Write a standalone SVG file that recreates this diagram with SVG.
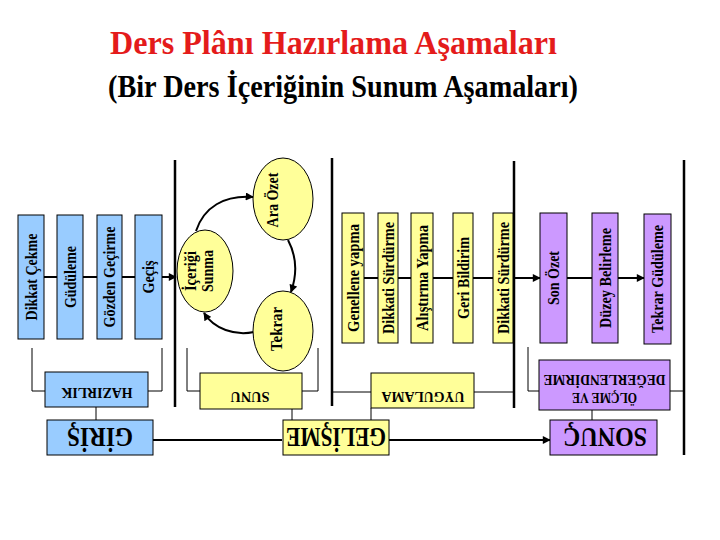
<svg xmlns="http://www.w3.org/2000/svg" width="720" height="540" viewBox="0 0 720 540">
<style>
.t{font-family:"Liberation Serif","Times New Roman",serif;font-weight:bold;fill:#000;text-anchor:middle}
.s{font-size:16px}
.m{font-size:15px}
.big{font-size:28px}
.blue{fill:#99CCFF;stroke:#000;stroke-width:1}
.yel{fill:#FFFF99;stroke:#000;stroke-width:1}
.pur{fill:#CC99FF;stroke:#000;stroke-width:1}
.sep{stroke:#000;stroke-width:2.5;fill:none}
.ln{stroke:#000;stroke-width:1;fill:none}
.ar{stroke:#000;stroke-width:2;fill:none;marker-end:url(#ah)}
</style>
<defs>
<marker id="ah" viewBox="0 0 10 10" refX="9" refY="5" markerWidth="4.5" markerHeight="4" orient="auto" markerUnits="strokeWidth">
<path d="M0,0 L10,5 L0,10 z" fill="#000"/>
</marker>
</defs>
<rect width="720" height="540" fill="#fff"/>
<text x="110" y="54" font-family="Liberation Serif,serif" font-weight="bold" font-size="33" fill="#E41B1B" textLength="447" lengthAdjust="spacingAndGlyphs">Ders Plânı Hazırlama Aşamaları</text>
<text x="108" y="97" font-family="Liberation Serif,serif" font-weight="bold" font-size="31" fill="#000" textLength="470" lengthAdjust="spacingAndGlyphs">(Bir Ders İçeriğinin Sunum Aşamaları)</text>

<g id="separators">
<path class="sep" d="M175 160V407M332 158V406M514 161V408M684 160V455"/>
</g>

<g id="connectors">
<path class="ln" d="M32 348V391H45M162 348V391H148M187 348V391H200M318 348V391H302M333 392H371M474 392H513M528 347V391H539M670 391H684"/>
<path class="ln" d="M96 407V420M292 409V420M371 408V420M592 410V420"/>
<path class="ar" d="M44 277H57M83 277H97M122 277H135M162 277H176"/>
<path class="ar" d="M364 278H378M398 278H411M433 278H453M473 278H493M513 278H540"/>
<path class="ar" d="M567 278H592M618 278H644"/>
<path class="ar" d="M153 440H282M389 440H550"/>
<path class="ar" d="M196 231C204 207 224 195 253 197"/>
<path class="ar" d="M288 240C297 257 297 275 291 292"/>
<path class="ar" d="M254 332C235 336 214 329 204 313"/>
</g>

<g id="dikkat-cekme"><rect class="blue" x="18" y="215" width="26" height="124"/><text class="t s" x="31" y="282.5" textLength="87" lengthAdjust="spacingAndGlyphs" transform="rotate(-90 31 277)">Dikkat Çekme</text></g>
<g id="gudulen"><rect class="blue" x="57" y="215" width="26" height="124"/><text class="t s" x="70" y="282.5" textLength="62" lengthAdjust="spacingAndGlyphs" transform="rotate(-90 70 277)">Güdüleme</text></g>
<g id="gozden"><rect class="blue" x="97" y="215" width="25" height="124"/><text class="t s" x="109.5" y="282.5" textLength="101" lengthAdjust="spacingAndGlyphs" transform="rotate(-90 109.5 277)">Gözden Geçirme</text></g>
<g id="gecis"><rect class="blue" x="135" y="215" width="27" height="124"/><text class="t s" x="148.5" y="282.5" textLength="33" lengthAdjust="spacingAndGlyphs" transform="rotate(-90 148.5 277)">Geçiş</text></g>

<g id="icerigi-sunma"><ellipse class="yel" cx="205" cy="271" rx="28" ry="41"/><text class="t s" x="190" y="276.5" textLength="40" lengthAdjust="spacingAndGlyphs" transform="rotate(-90 190 271)">İçeriği</text><text class="t s" x="207" y="276.5" textLength="42" lengthAdjust="spacingAndGlyphs" transform="rotate(-90 207 271)">Sunma</text></g>
<g id="ara-ozet"><ellipse class="yel" cx="283" cy="199" rx="30" ry="41"/><text class="t s" x="272" y="205.5" textLength="55" lengthAdjust="spacingAndGlyphs" transform="rotate(-90 272 200)">Ara Özet</text></g>
<g id="tekrar"><ellipse class="yel" cx="283" cy="331" rx="30" ry="40"/><text class="t s" x="276" y="334.5" textLength="44" lengthAdjust="spacingAndGlyphs" transform="rotate(-90 276 329)">Tekrar</text></g>

<g id="genellene"><rect class="yel" x="342" y="213" width="22" height="130"/><text class="t s" x="353" y="283.5" textLength="108" lengthAdjust="spacingAndGlyphs" transform="rotate(-90 353 278)">Genellene yapma</text></g>
<g id="dikkati1"><rect class="yel" x="378" y="213" width="20" height="130"/><text class="t s" x="388" y="283.5" textLength="112" lengthAdjust="spacingAndGlyphs" transform="rotate(-90 388 278)">Dikkati Sürdürme</text></g>
<g id="alistirma"><rect class="yel" x="411" y="213" width="22" height="130"/><text class="t s" x="422" y="283.5" textLength="106" lengthAdjust="spacingAndGlyphs" transform="rotate(-90 422 278)">Alıştırma Yapma</text></g>
<g id="geri-bildirim"><rect class="yel" x="453" y="213" width="20" height="130"/><text class="t s" x="463" y="283.5" textLength="82" lengthAdjust="spacingAndGlyphs" transform="rotate(-90 463 278)">Geri Bildirim</text></g>
<g id="dikkati2"><rect class="yel" x="493" y="213" width="20" height="130"/><text class="t s" x="503" y="283.5" textLength="112" lengthAdjust="spacingAndGlyphs" transform="rotate(-90 503 278)">Dikkati Sürdürme</text></g>

<g id="son-ozet"><rect class="pur" x="540" y="213" width="27" height="130"/><text class="t s" x="553.5" y="283.5" textLength="54" lengthAdjust="spacingAndGlyphs" transform="rotate(-90 553.5 278)">Son Özet</text></g>
<g id="duzey"><rect class="pur" x="592" y="213" width="26" height="130"/><text class="t s" x="605" y="283.5" textLength="100" lengthAdjust="spacingAndGlyphs" transform="rotate(-90 605 278)">Düzey Belirleme</text></g>
<g id="tekrar-gud"><rect class="pur" x="644" y="214" width="27" height="130"/><text class="t s" x="657.5" y="284.5" textLength="108" lengthAdjust="spacingAndGlyphs" transform="rotate(-90 657.5 279)">Tekrar Güdüleme</text></g>

<g id="hazirlik"><rect class="blue" x="45" y="372" width="103" height="35"/><text class="t m" x="97" y="398" textLength="71" lengthAdjust="spacingAndGlyphs" transform="rotate(180 97 393)">HAZIRLIK</text></g>
<g id="giris"><rect class="blue" x="47" y="420" width="106" height="35"/><text class="t big" x="100" y="446.5" textLength="66" lengthAdjust="spacingAndGlyphs" transform="rotate(180 100 437)">GİRİŞ</text></g>
<g id="sunu"><rect class="yel" x="200" y="373" width="102" height="36"/><text class="t m" x="250" y="402" textLength="39" lengthAdjust="spacingAndGlyphs" transform="rotate(180 250 397)">SUNU</text></g>
<g id="uygulama"><rect class="yel" x="371" y="373" width="103" height="35"/><text class="t m" x="423" y="402" textLength="83" lengthAdjust="spacingAndGlyphs" transform="rotate(180 423 397)">UYGULAMA</text></g>
<g id="gelisme"><rect class="yel" x="283" y="420" width="106" height="35"/><text class="t big" x="336" y="446.5" textLength="100" lengthAdjust="spacingAndGlyphs" transform="rotate(180 336 437)">GELİŞME</text></g>
<g id="olcme"><rect class="pur" x="539" y="360" width="131" height="50"/><g transform="rotate(180 604.5 384.5)"><text class="t" font-size="14" x="604.5" y="376" textLength="65" lengthAdjust="spacingAndGlyphs">ÖLÇME VE</text><text class="t" font-size="14" x="604.5" y="394.5" textLength="122" lengthAdjust="spacingAndGlyphs">DEĞERLENDİRME</text></g></g>
<g id="sonuc"><rect class="pur" x="550" y="420" width="107" height="35"/><text class="t big" x="605" y="446.5" textLength="84" lengthAdjust="spacingAndGlyphs" transform="rotate(180 605 437)">SONUÇ</text></g>
</svg>
